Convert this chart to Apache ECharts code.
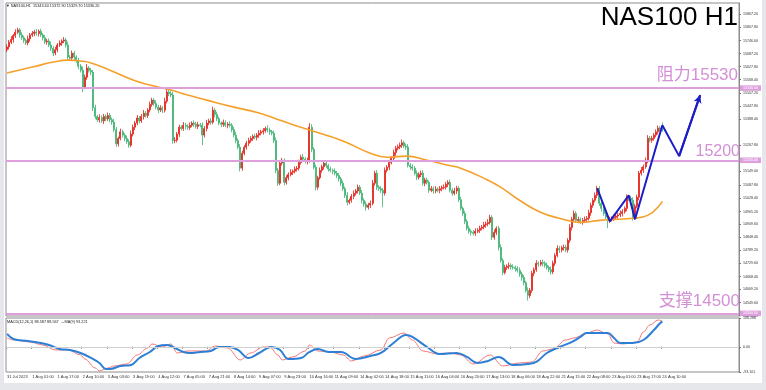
<!DOCTYPE html>
<html><head><meta charset="utf-8">
<script src="https://cdn.jsdelivr.net/npm/echarts@6/dist/echarts.min.js"></script>
<style>html,body{margin:0;padding:0;background:#e6e7eb;}#c{width:766px;height:390px;}</style>
</head><body><div id="c"></div>
<script>
// ---- data (NAS100 H1, 31 Jul – 24 Aug 2023) ----
const firstOpen = 15705;
const closes = [
15718,15740,15752,15770,15785,15796,15773,15760,15748,15736,
15755,15773,15779,15786,15780,15790,15773,15760,15741,15745,
15727,15712,15690,15705,15727,15736,15745,15750,15727,15672,
15667,15690,15672,15655,15630,15612,15535,15580,15622,15610,
15603,15440,15400,15385,15395,15380,15400,15390,15405,15385,
15375,15340,15275,15300,15330,15315,15300,15285,15269,15320,
15351,15370,15393,15380,15400,15415,15405,15430,15455,15475,
15460,15443,15430,15440,15429,15470,15512,15505,15498,15290,
15292,15320,15351,15345,15360,15355,15350,15360,15370,15365,
15355,15362,15360,15315,15345,15370,15380,15374,15429,15410,
15390,15370,15365,15372,15360,15365,15360,15340,15315,15290,
15260,15164,15232,15260,15278,15290,15300,15310,15305,15315,
15324,15330,15335,15345,15338,15330,15324,15290,15154,15095,
15187,15200,15099,15120,15135,15145,15150,15160,15164,15190,
15214,15205,15195,15200,15351,15250,15168,15077,15120,15154,
15170,15187,15175,15160,15154,15150,15141,15130,15115,15095,
15070,15040,15008,15017,15035,15049,15060,15077,15050,15017,
15000,14985,14995,15003,15095,15141,15077,15070,15063,15050,
15154,15168,15190,15209,15235,15255,15262,15269,15280,15265,
15260,15177,15170,15164,15140,15122,15135,15141,15095,15110,
15099,15063,15070,15060,15068,15063,15070,15075,15077,15090,
15099,15063,15049,15060,15072,15020,14980,14957,14920,14889,
14875,14870,14866,14875,14880,14889,14895,14905,14910,14916,
14939,14848,14870,14889,14802,14742,14687,14710,14715,14719,
14712,14710,14705,14697,14680,14664,14640,14605,14582,14605,
14683,14700,14729,14725,14733,14729,14720,14710,14700,14690,
14729,14765,14797,14790,14800,14802,14790,14834,14893,14930,
14957,14925,14930,14920,14925,14930,14935,14960,14994,15017,
15040,15072,15003,14980,14957,14940,14925,14930,14935,14939,
14945,14950,14957,14965,14980,15031,15025,15017,14939,14990,
15031,15141,15154,15170,15200,15301,15292,15300,15315,15330,
15347,15343.4,15336.2];
const wickUp = [
12,10,15,8,14,10,9,12,10,8, 15,9,12,10,14,8,11,9,13,10, 12,16,10,14,9,12,8,13,10,15,
9,12,10,8,14,10,16,12,18,9, 12,10,14,8,15,10,12,9,13,11, 10,14,12,8,15,10,9,13,11,16,
12,10,14,9,12,15,10,8,13,11, 9,14,10,12,8,16,18,10,12,15, 14,10,12,9,15,11,10,13,8,12,
10,14,9,12,11,15,10,13,16,9, 12,10,8,14,11,9,13,10,12,15, 10,14,12,9,11,13,10,8,12,10,
14,9,12,10,15,11,9,12,14,10, 13,11,9,12,10,14,8,12,10,13, 11,15,9,12,19,14,10,12,9,13,
10,12,14,9,11,8,13,10,12,9, 12,10,14,8,11,13,9,12,10,14, 9,12,10,13,15,11,14,9,12,10,
13,10,12,9,14,11,10,12,15,9, 12,14,10,11,9,13,10,12,14,10, 11,9,12,10,14,8,12,10,13,11,
10,12,9,14,11,10,13,9,12,10, 12,9,11,14,10,12,9,13,10,15, 12,10,14,9,11,13,10,12,9,14,
10,12,9,11,13,10,12,9,14,11, 12,10,14,9,11,13,10,12,9,15, 12,10,14,11,9,13,12,10,15,11,
14,10,12,9,11,13,10,14,12,10, 13,11,10,12,9,14,10,12,9,13, 11,10,14,12,9,13,10,12,14,11,
12,10,15,11,13,14,10,12,9,11, 12,10,29.5];
const wickDn = [
10,12,9,14,11,8,13,10,12,9, 11,13,9,12,10,14,9,12,10,13, 9,12,14,10,11,9,13,10,12,14,
12,10,13,9,14,11,23,10,12,9, 14,15,12,10,13,9,14,11,10,12, 13,10,14,12,9,11,13,10,12,9,
11,13,10,12,9,14,10,12,11,10, 12,10,14,9,13,11,10,12,9,14, 12,10,13,9,11,14,10,12,9,13,
10,12,9,46,11,13,10,12,9,14, 11,10,13,12,9,14,10,12,11,13, 10,15,12,9,11,13,10,12,9,14,
12,10,13,9,11,14,10,12,13,12, 9,11,14,10,12,9,13,10,12,11, 10,12,9,14,11,13,10,15,12,9,
11,13,10,12,9,14,10,12,11,13, 10,12,14,9,11,13,10,12,9,14, 12,15,10,13,9,11,14,10,12,65,
11,10,13,9,12,14,10,11,13,9, 12,10,14,11,9,13,10,12,11,14, 10,12,9,13,11,10,14,12,9,11,
13,10,12,9,14,11,10,13,12,10, 11,14,10,12,9,13,10,11,14,12, 10,13,11,12,14,10,12,9,11,13,
12,10,14,11,13,15,12,10,23,12, 11,13,10,12,9,14,11,10,12,13, 10,12,9,14,11,13,10,12,11,14,
12,10,13,11,15,9,12,10,14,11, 10,13,12,14,11,10,36,12,10,13, 11,12,10,14,9,13,11,10,15,12,
10,14,11,12,9,13,10,12,11,10, 12,11,6.5];
const maPoints = [[0,15599],[12,15626],[22,15649],[29,15658],[35,15654],[40,15645],[49,15612],[60,15567],[68,15544],[78,15521],[86,15498],[95,15475],[108,15443],[120,15416],[130,15383],[144,15338],[159,15292],[173,15232],[181,15214],[190,15219],[200,15200],[210,15177],[216,15164],[229,15109],[235,15077],[244,15017],[254,14962],[263,14935],[273,14916],[282,14925],[298,14935],[305,14948],[312,15012]];
const zigzag = [[281,15072],[287,14921],[296,15040],[299,14930],[312,15360],[320,15219],[330,15498]];
const levels = [15530, 15200, 14500];
const lastPrice = 15336.2;
const macdMain = [[0,32.5],[3,25.1],[11,17.7],[17,6.7],[23,-11.8],[29,-11.8],[35,-30.2],[37,-45.0],[42,-78.2],[44,-89.3],[48,-78.2],[51,-70.8],[57,-63.5],[62,-30.2],[67,-4.4],[69,10.4],[74,-0.7],[78,10.4],[81,-22.9],[86,-15.5],[95,-15.5],[99,3.0],[105,-4.4],[111,-48.7],[116,-22.9],[122,-0.7],[125,-0.7],[129,-30.2],[131,-48.7],[136,-37.6],[142,-15.5],[144,6.7],[148,-15.5],[154,-19.2],[160,-30.2],[164,-52.4],[170,-33.9],[178,-11.8],[182,32.5],[189,50.9],[193,25.1],[198,-15.5],[205,-26.6],[211,-22.9],[216,-30.2],[222,-63.5],[230,-30.2],[236,-70.8],[244,-59.8],[250,-56.1],[255,-15.5],[260,-8.1],[266,25.1],[270,32.5],[276,50.9],[281,62.0],[286,47.3],[289,14.1],[293,10.4],[300,17.7],[303,54.6],[306,80.4],[310,98.9],[312,95.2]];
const macdSignal = [[0,47.3],[3,28.8],[10,21.4],[16,14.1],[20,6.7],[25,-8.1],[30,-11.8],[35,-22.9],[40,-41.3],[44,-59.8],[47,-81.9],[49,-81.9],[54,-70.8],[59,-67.1],[63,-41.3],[68,-19.2],[72,3.0],[76,6.7],[79,-0.7],[84,-19.2],[87,-22.9],[92,-19.2],[97,-15.5],[101,-0.7],[106,-0.7],[110,-11.8],[115,-41.3],[120,-22.9],[126,-0.7],[130,-11.8],[134,-45.0],[140,-41.3],[144,-19.2],[148,-8.1],[153,-19.2],[159,-19.2],[166,-45.0],[173,-33.9],[178,-22.9],[184,14.1],[190,43.6],[193,36.2],[200,-0.7],[206,-26.6],[214,-22.9],[219,-37.6],[224,-59.8],[229,-52.4],[234,-37.6],[241,-67.1],[248,-63.5],[252,-56.1],[257,-22.9],[263,-0.7],[268,14.1],[273,36.2],[276,50.9],[281,50.9],[286,50.9],[289,32.5],[292,14.1],[298,14.1],[303,25.1],[308,62.0],[311,87.8],[312,93.2]];
const xTickIndex = [0,12,24,36,48,60,72,84,96,108,120,132,144,156,168,180,192,204,216,228,240,252,264,276,288,300,312];
const xTickText = ['31 Jul 2023','1 Aug 01:00','1 Aug 17:00','2 Aug 10:00','3 Aug 03:00','3 Aug 19:00','4 Aug 12:00','7 Aug 05:00','7 Aug 21:00','8 Aug 14:00','9 Aug 07:00','9 Aug 23:00','10 Aug 16:00','11 Aug 09:00','14 Aug 02:00','14 Aug 18:00','15 Aug 11:00','16 Aug 04:00','16 Aug 20:00','17 Aug 13:00','18 Aug 06:00','18 Aug 22:00','21 Aug 15:00','22 Aug 08:00','23 Aug 01:00','23 Aug 17:00','24 Aug 10:00'];
const yTickValues = [15867.2,15807.8,15746.6,15687.2,15627.8,15568.4,15507.2,15447.8,15388.4,15267.8,15149.0,15087.8,15028.4,14965.2,14909.6,14848.4,14789.2,14729.6,14668.4,14609.2,14549.6,14490.2];
const macdTickValues = [106.288, 0, -93.101];
const macdTickText = ['106.288', '0.00', '-93.101'];
const totalSlots = 349;
const yMin = 14488, yMax = 15919;

// ---- build ----
const cats = Array.from({length: totalSlots}, (_, i) => String(i));
const candles = closes.map((c, i) => {
  const o = i === 0 ? firstOpen : closes[i - 1];
  return [o, c, Math.min(o, c) - wickDn[i], Math.max(o, c) + wickUp[i]];
});
const xLabelMap = {};
xTickIndex.forEach((k, j) => { xLabelMap[k] = xTickText[j]; });

const PLUM = '#dda0dd';
const PLUM_TXT = '#d490d6';
const UP = '#e3221b', DOWN = '#3cb371';
const F = 'Liberation Sans, Arial, Noto Sans CJK SC, sans-serif';
const SMALL = 3.8;

const levelLines = levels.map(v => ({
  yAxis: v,
  lineStyle: {color: PLUM, width: 2, type: 'solid'},
  label: {show: true, position: 'end', distance: 1, formatter: () => v.toFixed(2),
          backgroundColor: PLUM, color: '#fff', fontSize: 3.6, padding: [1, 3], fontFamily: F}
}));
levelLines.push({
  yAxis: lastPrice,
  lineStyle: {opacity: 0},
  label: {show: true, position: 'end', distance: 1, formatter: () => lastPrice.toFixed(2),
          backgroundColor: '#000', color: '#fff', fontSize: 3.6, padding: [1, 3], fontFamily: F}
});

const chart = echarts.init(document.getElementById('c'));
chart.setOption({
  animation: false,
  backgroundColor: '#e6e7eb',
  textStyle: {fontFamily: F},
  graphic: [{type: 'rect', shape: {x: 4, y: 0, width: 758, height: 383}, style: {fill: '#fff'}, z: -10, silent: true}],
  title: [
    {text: 'NAS100 H1', right: 28, top: 5, padding: 0, textStyle: {fontSize: 26, fontWeight: 'normal', color: '#000', fontFamily: F}},
    {text: '阻力15530', right: 28, top: 67, padding: 0, textStyle: {fontSize: 17, fontWeight: 'normal', color: PLUM_TXT, fontFamily: F}},
    {text: '15200', right: 26, top: 144, padding: 0, textStyle: {fontSize: 16, fontWeight: 'normal', color: PLUM_TXT, fontFamily: F}},
    {text: '支撑14500', right: 26, top: 293, padding: 0, textStyle: {fontSize: 17, fontWeight: 'normal', color: PLUM_TXT, fontFamily: F}},
    {text: '▼ NAS100,H1  15343.40 15372.90 15329.70 15336.20', left: 6, top: 4, padding: 0, textStyle: {fontSize: SMALL, fontWeight: 'normal', color: '#222', fontFamily: F}},
    {text: 'MACD(12,26,1) 88.587 88.567  ↔MA(9) 93.221', left: 7, top: 320, padding: 0, textStyle: {fontSize: SMALL, fontWeight: 'normal', color: '#222', fontFamily: F}}
  ],
  grid: [
    {left: 6, right: 27, top: 3, height: 313, show: true, borderColor: '#8c8c8c', borderWidth: 1, backgroundColor: '#fff'},
    {left: 6, right: 27, top: 318, height: 54, show: true, borderColor: '#8c8c8c', borderWidth: 1, backgroundColor: '#fff'}
  ],
  xAxis: [
    {type: 'category', gridIndex: 0, data: cats, axisLine: {show: false}, axisTick: {show: false}, axisLabel: {show: false}, splitLine: {show: false}},
    {type: 'category', gridIndex: 1, data: cats, axisLine: {show: false},
     axisTick: {show: true, length: 2, interval: (i) => (i in xLabelMap), lineStyle: {color: '#777'}},
     axisLabel: {show: true, interval: (i) => (i in xLabelMap), hideOverlap: false,
                 formatter: (v, i) => xLabelMap[i] || '', fontSize: 4, color: '#333', align: 'left', margin: 3, fontFamily: F},
     splitLine: {show: false}}
  ],
  yAxis: [
    {type: 'value', gridIndex: 0, position: 'right', min: yMin, max: yMax, scale: true,
     axisLine: {show: true, lineStyle: {color: '#8c8c8c'}},
     axisTick: {show: true, length: 2, customValues: yTickValues, lineStyle: {color: '#777'}},
     axisLabel: {show: true, customValues: yTickValues, formatter: v => v.toFixed(2), fontSize: 3.6, color: '#333', margin: 4, fontFamily: F},
     splitLine: {show: false}},
    {type: 'value', gridIndex: 1, position: 'right', min: macdTickValues[2], max: macdTickValues[0],
     axisLine: {show: true, lineStyle: {color: '#8c8c8c'}},
     axisTick: {show: true, length: 2, customValues: macdTickValues, lineStyle: {color: '#777'}},
     axisLabel: {show: true, customValues: macdTickValues, formatter: v => macdTickText[macdTickValues.indexOf(v)] ?? String(v), fontSize: 3.6, color: '#333', margin: 4, fontFamily: F},
     splitLine: {show: false}}
  ],
  series: [
    {type: 'candlestick', xAxisIndex: 0, yAxisIndex: 0, data: candles, barWidth: 1.5,
     itemStyle: {color: UP, color0: DOWN, borderColor: UP, borderColor0: DOWN, borderWidth: 0.8},
     markLine: {silent: true, symbol: ['none', 'none'], animation: false, data: levelLines}},
    {type: 'line', xAxisIndex: 0, yAxisIndex: 0, data: maPoints, smooth: 0.5, showSymbol: false, symbol: 'none',
     lineStyle: {color: '#f5a02a', width: 1.6}, z: 3},
    {type: 'line', xAxisIndex: 0, yAxisIndex: 0, data: zigzag, showSymbol: false, symbol: 'none',
     lineStyle: {color: '#1c1cc8', width: 2}, z: 5,
     markLine: {silent: true, symbol: ['none', 'arrow'], symbolSize: [6, 8], animation: false,
       lineStyle: {color: '#1c1cc8', width: 2, type: 'solid'}, label: {show: false},
       data: [[{coord: zigzag[zigzag.length - 2]}, {coord: zigzag[zigzag.length - 1]}]]}},
    {type: 'line', xAxisIndex: 1, yAxisIndex: 1, data: macdMain, smooth: 0.35, smoothMonotone: 'x', showSymbol: false, symbol: 'none',
     lineStyle: {color: '#f07878', width: 1}, z: 3,
     markLine: {silent: true, symbol: ['none', 'none'], animation: false, label: {show: false},
       lineStyle: {color: '#cfcfcf', width: 1, type: 'solid'}, data: [{yAxis: 0}]}},
    {type: 'line', xAxisIndex: 1, yAxisIndex: 1, data: macdSignal, smooth: 0.4, showSymbol: false, symbol: 'none',
     lineStyle: {color: '#2d7fd6', width: 2}, z: 4}
  ]
});
</script>
</body></html>
